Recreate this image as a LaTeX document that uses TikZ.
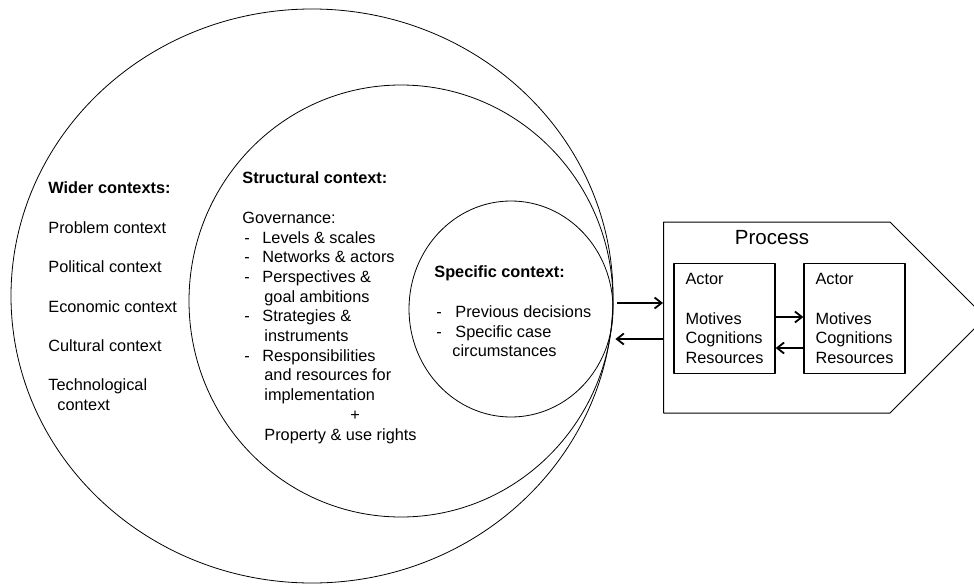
\documentclass[tikz,border=0pt]{standalone}
\usepackage{fontspec}
\setmainfont{Liberation Sans}
\usetikzlibrary{arrows.meta,calc,positioning,shapes.geometric,shapes.symbols}
\definecolor{fg}{RGB}{0,0,0}
\newcommand{\itm}[2][20pt]{\makebox[#1][l]{\hspace{2pt}-}#2}
\newcommand{\cnt}[1][22pt]{\hspace*{#1}}
\tikzset{
  every picture/.style={fg, line width=0.8pt, line join=round},
  every node/.style={font=\fontsize{16.3}{19.7}\selectfont, inner sep=0pt},
  % Kontexte
  ctx/.style={ellipse, draw, line width=0.8pt},
  txt/.style={anchor=north west, align=left},
  % Prozess
  proc/.style={signal, signal to=east, signal from=nowhere, signal pointer angle=90,
    draw, line width=1pt},
  actor/.style={draw, line width=1.3pt, minimum width=101pt, minimum height=110pt, align=left},
  flow/.style={line width=1.8pt, -{Straight Barb[length=7pt,width=11pt]}},
}

\begin{document}
\begin{tikzpicture}[x=1pt, y=-1pt]
  \useasboundingbox (0,0) rectangle (974,586);
  \clip (0,0) rectangle (974,586);
  % Kreise
  \node[ctx, minimum width=602pt, minimum height=574pt] (wide) at (312,296) {};
  \node[ctx, minimum width=424pt, minimum height=432pt] (struct) at (401,301) {};
  \node[ctx, minimum width=204pt, minimum height=216pt] (spec) at (511,309) {};

  % Texte
  \node[txt] (widetxt) at (48,181.7) {\textbf{Wider contexts:}\\[19.7pt]
    Problem context\\[19.7pt] Political context\\[19.7pt] Economic context\\[19.7pt]
    Cultural context\\[19.7pt] Technological\\ \cnt[9pt]context};
  \node[txt] (structtxt) at (242,171.7) {\textbf{Structural context:}\\[19.7pt]
    Governance:\\ \itm{Levels \& scales}\\ \itm{Networks \& actors}\\
    \itm{Perspectives \&}\\ \cnt goal ambitions\\ \itm{Strategies \&}\\ \cnt instruments\\
    \itm{Responsibilities}\\ \cnt and resources for\\ \cnt implementation\\
    \cnt[108pt]+\\ \cnt Property \& use rights};
  \node[txt] (spectxt) at (434,265.7) {\textbf{Specific context:}\\[19.7pt]
    \itm[21pt]{Previous decisions}\\ \itm[21pt]{Specific case}\\ \cnt[18pt]circumstances};

  % Prozess
  \node[proc, minimum width=322pt, minimum height=191pt, anchor=west] (prc) at (663,317.5) {};
  \node[font=\fontsize{20.5}{24}\selectfont] (ptitle) at (772,238) {Process};
  \node[actor] (act1) at (724.5,318.5) {Actor\\[19.7pt]Motives\\Cognitions\\Resources};
  \node[actor] (act2) at (854.5,318.5) {Actor\\[19.7pt]Motives\\Cognitions\\Resources};
  \draw[flow] ([yshift=1.5pt]act1.east) -- ([yshift=1.5pt]act2.west);
  \draw[flow] ([yshift=-29.5pt]act2.west) -- ([yshift=-29.5pt]act1.east);

  % Pfeile Kontext <-> Prozess
  \coordinate (out) at ($(spec.east)+(4,-6)$);
  \coordinate (in) at ($(spec.east)+(2,30)$);
  \draw[flow] (out) -- (out -| prc.west);
  \draw[flow] (in -| prc.west) -- (in);
\end{tikzpicture}
\end{document}
